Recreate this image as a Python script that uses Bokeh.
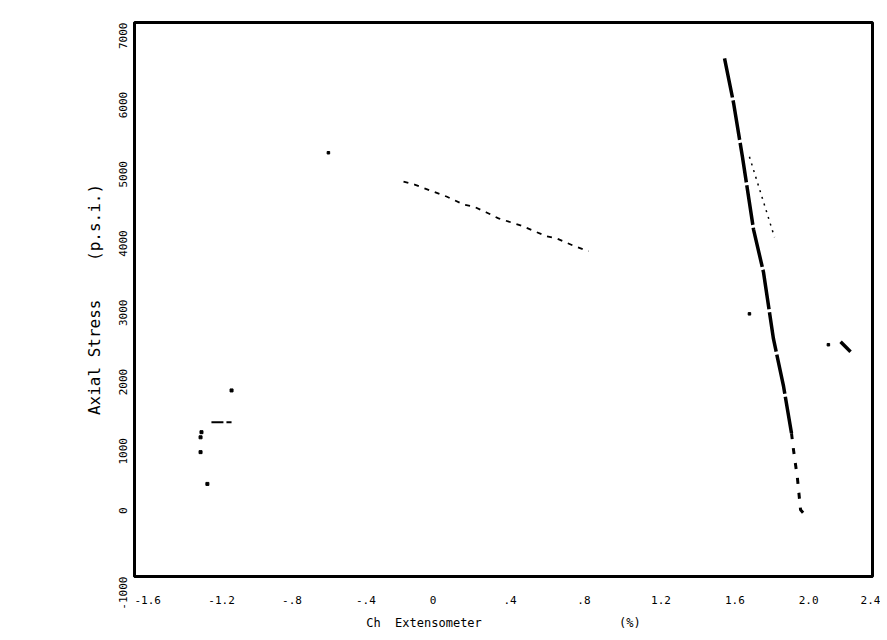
import math
from bokeh.plotting import figure
from bokeh.models import Range1d, FixedTicker
from bokeh.embed import file_html
from bokeh.resources import INLINE

# ---- data ----
x_ticks = [-1.6, -1.2, -0.8, -0.4, 0.0, 0.4, 0.8, 1.2, 1.6, 2.0, 2.4]
x_tick_labels = ["-1.6", "-1.2", "-.8", "-.4", "0", ".4", ".8", "1.2", "1.6", "2.0", "2.4"]
y_ticks = [-1000, 0, 1000, 2000, 3000, 4000, 5000, 6000, 7000]
y_tick_labels = ["-1000", "0", "1000", "2000", "3000", "4000", "5000", "6000", "7000"]

# initial loading cluster (lower left)
cluster_x = [-1.237, -1.242, -1.242, -1.205, -1.074]
cluster_y = [1084, 1010, 796, 337, 1687]
plateau_x = [-1.183, -1.074]
plateau_y = [1227, 1227]

# unloading series (dotted descending line)
unload_x = [-0.142, -0.082, 0.091, 0.183, 0.237, 0.308, 0.373, 0.492, 0.633, 0.687, 0.774, 0.861]
unload_y = [4702, 4659, 4487, 4372, 4343, 4257, 4171, 4071, 3913, 3884, 3783, 3697]
unload_start_x = [-0.549]
unload_start_y = [5119]

# steep reloading series (thick)
steep_x = [1.598, 1.647, 1.695, 1.755, 1.809, 1.863, 1.918, 1.961]
steep_y = [6483, 5837, 5061, 4013, 3396, 2434, 1744, 1069]
tail_x = [1.961, 1.972, 1.993, 2.010, 2.042]
tail_y = [1069, 825, 423, -36, -137]

# parallel dotted branch
branch_x = [1.733, 1.869]
branch_y = [5061, 3898]

# isolated points
iso_x = [1.733, 2.161]
iso_y = [2793, 2347]
hook_x = [2.227, 2.281]
hook_y = [2390, 2247]

FONT = "DejaVu Sans Mono"
NB = "\u00a0"

p = figure(width=880, height=632, output_backend="svg", toolbar_location=None,
           x_range=Range1d(-1.6, 2.4), y_range=Range1d(-1000, 7000),
           min_border_left=134, min_border_right=8, min_border_top=22, min_border_bottom=53)

p.grid.visible = False
p.background_fill_color = "white"
p.border_fill_color = "white"
p.outline_line_color = "black"
p.outline_line_width = 3

for ax in (p.xaxis[0], p.yaxis[0]):
    ax.axis_line_color = "black"
    ax.axis_line_width = 3
    ax.major_tick_line_color = None
    ax.minor_tick_line_color = None
    ax.major_tick_out = 0
    ax.major_tick_in = 0
    ax.major_label_text_font = FONT
    ax.major_label_text_font_size = "11px"
    ax.major_label_text_color = "black"
    ax.axis_label_text_font = FONT
    ax.axis_label_text_font_style = "normal"
    ax.axis_label_text_color = "black"

p.xaxis.ticker = FixedTicker(ticks=x_ticks)
# labels in the scan start at their tick: pad on the left so the centred text begins at the tick
p.xaxis.major_label_overrides = {t: NB * len(l) + l for t, l in zip(x_ticks, x_tick_labels)}
p.xaxis.major_label_standoff = 17
p.xaxis.axis_label = "Ch" + NB * 2 + "Extensometer" + NB * 19 + "(%)"
p.xaxis.axis_label_text_font_size = "12px"
p.xaxis.axis_label_standoff = 6

p.yaxis.ticker = FixedTicker(ticks=y_ticks)
p.yaxis.major_label_overrides = {t: l for t, l in zip(y_ticks, y_tick_labels)}
p.yaxis.major_label_orientation = math.pi / 2
p.yaxis.major_label_standoff = 12
p.yaxis.axis_label = "Axial" + NB + "Stress" + NB * 4 + "(p.s.i.)"
p.yaxis.axis_label_text_font_size = "16px"
p.yaxis.axis_label_standoff = 8

ink = "black"
p.scatter(cluster_x, cluster_y, size=3, marker="square", color=ink)
p.line(plateau_x, plateau_y, line_width=2, color=ink, line_dash="12 3")

p.scatter(unload_start_x, unload_start_y, size=2.5, marker="square", color=ink)
p.line(unload_x, unload_y, line_width=1.8, color=ink, line_dash="5 6")

p.line(steep_x, steep_y, line_width=3.5, color=ink, line_dash="40 3")
p.line(tail_x, tail_y, line_width=3, color=ink, line_dash="6 9")

p.line(branch_x, branch_y, line_width=1.5, color=ink, line_dash="2 5")

p.scatter(iso_x, iso_y, size=2.5, marker="square", color=ink)
p.line(hook_x, hook_y, line_width=3.5, color=ink)

open("out.html", "w").write(file_html(p, INLINE))
